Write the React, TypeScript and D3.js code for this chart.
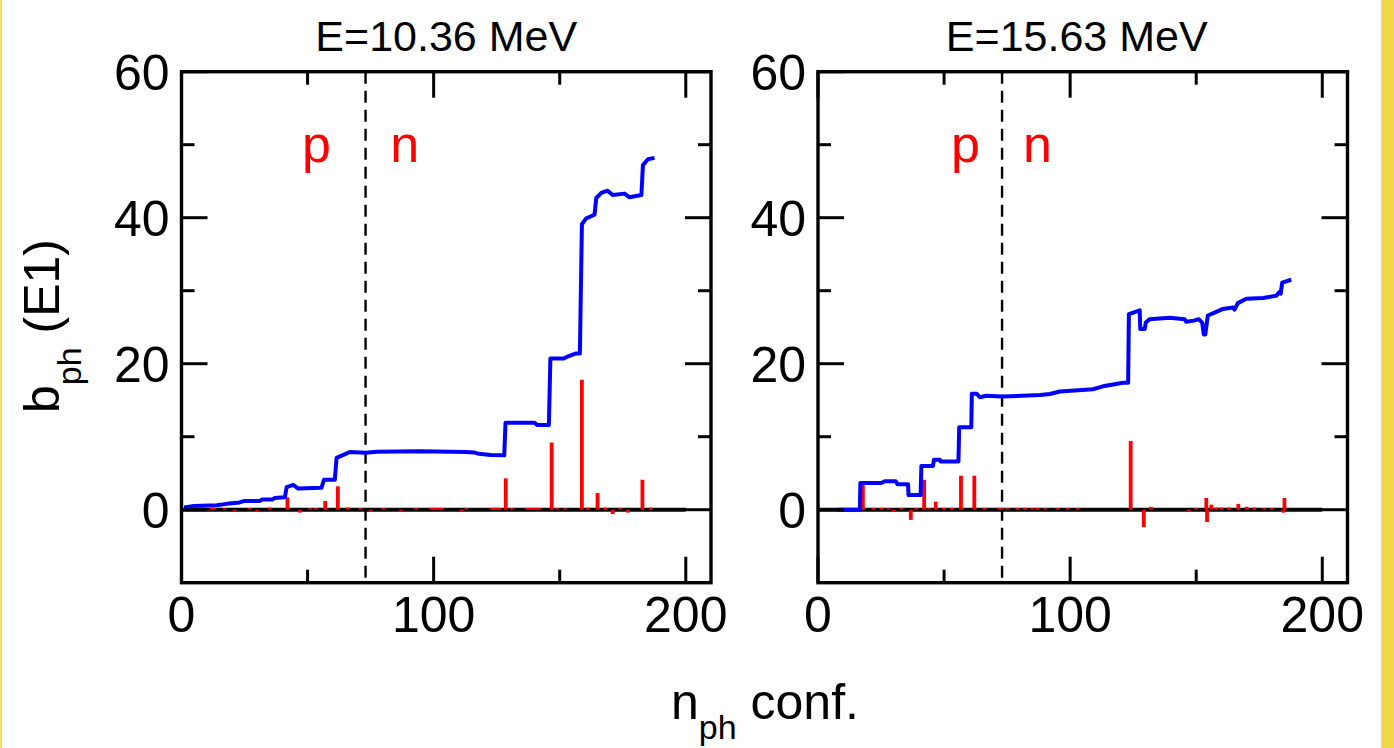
import React from 'react';
import * as d3 from 'd3';

// ---------- data ----------
const xMajorTicks = [0, 100, 200];
const xMinorTicks = [50, 150];
const yMajorTicks = [0, 20, 40, 60];
const yMinorTicks = [10, 30, 50];
const yTickLabels = [0, 20, 40, 60];
const xTickLabels = [0, 100, 200];
const panelTitles = ['E=10.36 MeV', 'E=15.63 MeV'];
const pnBoundary = 73;

// cumulative b_ph (E1), E = 10.36 MeV
const blueLeft: [number, number][] = [
  [1, 0.3], [5, 0.5], [14, 0.6], [18, 0.8], [23, 1.0], [25, 1.2], [31, 1.2], [32, 1.4],
  [36, 1.4], [37, 1.6], [41, 1.7], [41.7, 3.1], [44.3, 3.4], [46.3, 2.9], [55.5, 3.0],
  [56.5, 4.1], [60.8, 4.1], [61.5, 7.1], [63.5, 7.4], [66.8, 7.9], [73, 7.8], [77.5, 7.95],
  [94.5, 8.0], [112.7, 7.9], [116, 7.85], [118, 7.65], [122.6, 7.5], [128, 7.45],
  [128.5, 11.9], [140, 11.9], [141, 11.6], [145.7, 11.6], [146.3, 20.7], [151.6, 20.7],
  [153.6, 21.05], [156.5, 21.4], [158, 21.4], [158.8, 39.1], [160.5, 39.9], [163.8, 40.4],
  [164.5, 42.7], [166.5, 43.4], [169, 43.7], [171, 43.1], [175.7, 43.3], [177.7, 42.8],
  [182.4, 43.1], [183, 47.2], [185, 48.0], [187.6, 48.2],
];

// cumulative b_ph (E1), E = 15.63 MeV
const blueRight: [number, number][] = [
  [7.5, 0], [16.6, 0], [16.8, 3.65], [25.1, 3.65], [26.5, 3.9], [30.8, 3.9], [31.5, 3.5],
  [35.7, 3.5], [35.9, 2.0], [40.7, 2.0], [41, 6.0], [45.6, 6.0], [46, 6.85], [48.3, 6.85],
  [48.6, 6.6], [55.7, 6.6], [56, 11.3], [60.8, 11.3], [61, 15.9], [62.9, 15.9], [64.2, 15.4],
  [66.8, 15.6], [72.8, 15.5], [88, 15.7], [92, 15.85], [95.9, 16.2], [109, 16.5], [113, 16.9],
  [121, 17.4], [123, 17.4], [123.3, 26.8], [127.6, 27.3], [127.8, 24.75], [129.6, 24.75],
  [130, 25.65], [131.5, 26.1], [139.5, 26.3], [145.4, 26.1], [146, 25.75], [149, 25.9],
  [151, 26.1], [152.4, 25.6], [153, 24.0], [153.6, 24.0], [154.6, 26.6], [157.3, 27.0],
  [160.6, 27.5], [164.6, 27.7], [165.2, 27.4], [166.5, 28.3], [169.9, 28.9], [176.5, 29.0],
  [181.7, 29.3], [183, 29.8], [183.5, 29.6], [184.1, 31.1], [187.7, 31.5],
];

// individual contributions (red bars)
const redLeft: [number, number][] = [
  [42, 1.7], [47, -0.4], [57, 1.2], [62, 3.2], [128.6, 4.3], [146.8, 9.2], [158.8, 17.8],
  [165, 2.3], [171, -0.6], [177, -0.4], [182.8, 4.1],
  [5, 0.2], [10, -0.2], [12, 0.25], [13, 0.25], [17, 0.2], [21, -0.2], [27, 0.2], [30, -0.25],
  [35, 0.3], [51, 0.2], [53, 0.2], [66, 0.3], [71, 0.2], [75, -0.2], [80, 0.2], [87, -0.2],
  [93, 0.2], [99, 0.25], [100, 0.25], [101, 0.25], [102, 0.25], [103, 0.25], [111, -0.2],
  [113, 0.2], [123, 0.25], [124, 0.25], [125, 0.25], [126, 0.25], [131, 0.2], [137, 0.2],
  [138, 0.25], [139, 0.25], [140, 0.25], [141, 0.25], [142, 0.2], [149, 0.2], [152, 0.2],
  [161, 0.3], [168, 0.3], [174, 0.2], [186, 0.3],
];

const redRight: [number, number][] = [
  [17.8, 3.5], [36.8, -1.4], [42.1, 4.1], [46.7, 1.1], [56.7, 4.65], [62, 4.65], [124, 9.4],
  [129.2, -2.4], [132, 0.4], [154, 1.6], [154.3, -1.7], [156, 0.7], [160, 0.3], [166.7, 0.8],
  [170, 0.4], [185, 1.6], [184.5, -0.4],
  [8, 0.2], [10, 0.2], [22, 0.25], [25, 0.25], [28, 0.2], [30, -0.3], [33, 0.2], [39, 0.25],
  [44, 0.2], [50, 0.25], [53, 0.25], [66, 0.25], [72, 0.25], [73, 0.25], [75, 0.2], [79, 0.25],
  [82, 0.25], [85, 0.2], [87, 0.25], [90, 0.2], [95, 0.2], [99, 0.2], [103, 0.2], [147, -0.3],
  [150, 0.2], [158, 0.3], [163, 0.3], [173, 0.3], [177, 0.2], [180, 0.2],
];

// ---------- layout ----------
const W = 1394;
const H = 748;
const TOP = 71.7;
const BOTTOM = 582.7;
const FONT = '"Liberation Sans", Arial, Helvetica, sans-serif';

const panels = [
  { x0: 181.5, x1: 711, title: panelTitles[0], blue: blueLeft, red: redLeft, pAt: 53.5, nAt: 88.5, tShift: 0 },
  { x0: 818, x1: 1347.5, title: panelTitles[1], blue: blueRight, red: redRight, pAt: 58.5, nAt: 87, tShift: -6 },
];

function Panel({ p }: { p: typeof panels[number] }) {
  const x = d3.scaleLinear().domain([0, 210]).range([p.x0, p.x1]);
  const y = d3.scaleLinear().domain([-10, 60]).range([BOTTOM, TOP]);
  const line = d3.line<[number, number]>().x(d => x(d[0])).y(d => y(d[1]));
  const major = 26;
  const minor = 13;
  return (
    <g>
      {/* zero line */}
      <line x1={x(0)} x2={x(200)} y1={y(0)} y2={y(0)} stroke="#000" strokeWidth={4} />
      {/* red bars */}
      {p.red.map((d, i) => (
        <line key={i} x1={x(d[0])} x2={x(d[0])} y1={y(0)} y2={y(d[1])}
          stroke="#ff0000" strokeWidth={3.8} />
      ))}
      {/* dashed boundary */}
      <line x1={x(pnBoundary)} x2={x(pnBoundary)} y1={y(60)} y2={y(-10)}
        stroke="#000" strokeWidth={2.4} strokeDasharray="12,7" />
      {/* blue cumulative */}
      <path d={line(p.blue) || ''} fill="none" stroke="#0000ff" strokeWidth={4}
        strokeLinejoin="round" />
      {/* frame */}
      <rect x={x(0)} y={y(60)} width={x(210) - x(0)} height={y(-10) - y(60)}
        fill="none" stroke="#000" strokeWidth={3.4} />
      {/* x ticks */}
      {xMajorTicks.map(t => (
        <g key={'xm' + t}>
          <line x1={x(t)} x2={x(t)} y1={y(-10)} y2={y(-10) - major} stroke="#000" strokeWidth={3} />
          <line x1={x(t)} x2={x(t)} y1={y(60)} y2={y(60) + major} stroke="#000" strokeWidth={3} />
        </g>
      ))}
      {xMinorTicks.map(t => (
        <g key={'xn' + t}>
          <line x1={x(t)} x2={x(t)} y1={y(-10)} y2={y(-10) - minor} stroke="#000" strokeWidth={3} />
          <line x1={x(t)} x2={x(t)} y1={y(60)} y2={y(60) + minor} stroke="#000" strokeWidth={3} />
        </g>
      ))}
      {/* y ticks */}
      {yMajorTicks.map(t => (
        <g key={'ym' + t}>
          <line x1={x(0)} x2={x(0) + major} y1={y(t)} y2={y(t)} stroke="#000" strokeWidth={3} />
          <line x1={x(210)} x2={x(210) - major} y1={y(t)} y2={y(t)} stroke="#000" strokeWidth={3} />
        </g>
      ))}
      {yMinorTicks.map(t => (
        <g key={'yn' + t}>
          <line x1={x(0)} x2={x(0) + minor} y1={y(t)} y2={y(t)} stroke="#000" strokeWidth={3} />
          <line x1={x(210)} x2={x(210) - minor} y1={y(t)} y2={y(t)} stroke="#000" strokeWidth={3} />
        </g>
      ))}
      {/* tick labels */}
      {yTickLabels.map(t => (
        <text key={'yl' + t} x={x(0) - 12} y={y(t) + 18} textAnchor="end"
          fontSize={50} fontFamily={FONT} fill="#000">{t}</text>
      ))}
      {xTickLabels.map(t => (
        <text key={'xl' + t} x={x(t)} y={632} textAnchor="middle"
          fontSize={50} fontFamily={FONT} fill="#000">{t}</text>
      ))}
      {/* title */}
      <text x={(x(0) + x(210)) / 2 + p.tShift} y={51} textAnchor="middle" fontSize={43}
        fontFamily={FONT} fill="#000">{p.title}</text>
      {/* p / n labels */}
      <text x={x(p.pAt)} y={162} textAnchor="middle" fontSize={52} fontFamily={FONT} fill="#ff0000">p</text>
      <text x={x(p.nAt)} y={162} textAnchor="middle" fontSize={52} fontFamily={FONT} fill="#ff0000">n</text>
    </g>
  );
}

export default function App() {
  return (
    <svg width={W} height={H} viewBox={`0 0 ${W} ${H}`}
      style={{ position: 'absolute', left: 0, top: 0, background: '#fff' }}>
      <rect x={0} y={0} width={W} height={H} fill="#fff" />
      <rect x={0} y={0} width={2} height={H} fill="#f3df6a" />
      <rect x={1381} y={0} width={13} height={H} fill="#f0d84a" />
      {panels.map((p, i) => <Panel key={i} p={p} />)}
      {/* y axis label */}
      <text transform="translate(59,326) rotate(-90)" textAnchor="middle" fontSize={50}
        fontFamily={FONT} fill="#000">
        <tspan>b</tspan>
        <tspan fontSize={34} dy={22}>ph</tspan>
        <tspan dy={-22}> (E1)</tspan>
      </text>
      {/* x axis label */}
      <text x={765} y={719} textAnchor="middle" fontSize={50} fontFamily={FONT} fill="#000">
        <tspan>n</tspan>
        <tspan fontSize={34} dy={20}>ph</tspan>
        <tspan dy={-20}> conf.</tspan>
      </text>
    </svg>
  );
}
